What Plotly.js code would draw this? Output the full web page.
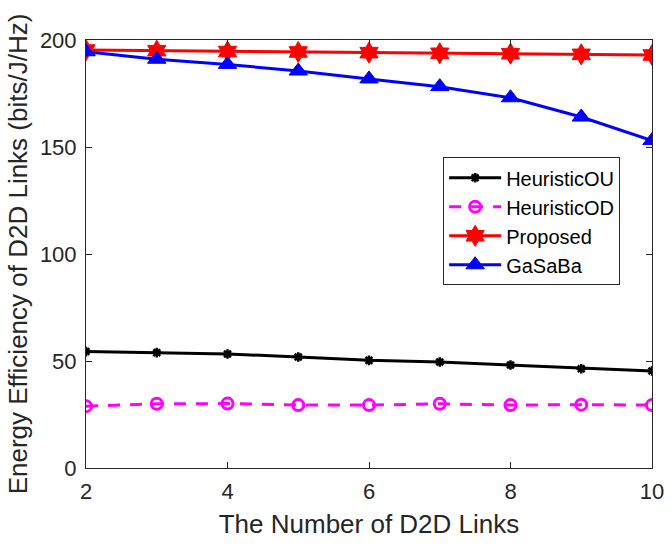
<!DOCTYPE html>
<html>
<head>
<meta charset="utf-8">
<script src="https://cdn.plot.ly/plotly-3.0.1.min.js"></script>
<style>html,body{margin:0;padding:0;background:#fff;}#chart{width:672px;height:548px;}</style>
</head>
<body>
<div id="chart"></div>
<script>
const xLinks = [2, 3, 4, 5, 6, 7, 8, 9, 10];
const heuristicOU = [54.4, 53.9, 53.3, 51.9, 50.3, 49.5, 48.1, 46.4, 45.3];
const heuristicOD = [28.9, 30.0, 30.1, 29.4, 29.4, 30.0, 29.4, 29.6, 29.4];
const proposed = [195.3, 195.0, 194.6, 194.4, 194.1, 193.8, 193.6, 193.3, 193.0];
const gaSaBa = [194.5, 191.0, 188.6, 185.5, 181.8, 178.2, 173.0, 164.0, 153.0];
const xTicks = [2, 4, 6, 8, 10];
const yTicks = [0, 50, 100, 150, 200];

const font = 'Liberation Sans, Arial, sans-serif';
const axisColor = '#262626';

const traces = [
  {x: xLinks, y: heuristicOU, name: 'HeuristicOU', mode: 'lines+markers',
   line: {color: '#000000', width: 3},
   marker: {symbol: 'asterisk-open', size: 8, color: '#000000', line: {color: '#000000', width: 2.5}}},
  {x: xLinks, y: heuristicOD, name: 'HeuristicOD', mode: 'lines+markers',
   line: {color: '#ff00ff', width: 3, dash: '12px,10px'},
   marker: {symbol: 'circle-open', size: 11, color: '#ff00ff', line: {color: '#ff00ff', width: 3}}},
  {x: xLinks, y: proposed, name: 'Proposed', mode: 'lines+markers',
   line: {color: '#ff0000', width: 3},
   marker: {symbol: 'hexagram', size: 16, color: '#ff0000', line: {color: '#ff0000', width: 1}}},
  {x: xLinks, y: gaSaBa, name: 'GaSaBa', mode: 'lines+markers',
   line: {color: '#0000ff', width: 3},
   marker: {symbol: 'triangle-up', size: 16, color: '#0000ff', line: {color: '#0000ff', width: 1}}}
];

const layout = {
  width: 672, height: 548,
  margin: {l: 86, r: 20, t: 40, b: 80},
  paper_bgcolor: '#ffffff', plot_bgcolor: '#ffffff',
  font: {family: font, color: axisColor, size: 22},
  showlegend: true,
  legend: {x: 0.631, y: 0.726, xanchor: 'left', yanchor: 'top',
    bgcolor: '#ffffff', bordercolor: '#262626', borderwidth: 1,
    font: {family: font, size: 20, color: '#000000'}, tracegroupgap: 0, itemwidth: 52},
  xaxis: {range: [2, 10], tickvals: xTicks, ticktext: xTicks.map(String),
    ticks: 'inside', ticklen: 6, tickcolor: axisColor, tickwidth: 1,
    showline: true, linecolor: axisColor, linewidth: 1, mirror: 'ticks',
    showgrid: false, zeroline: false, tickfont: {size: 22, color: axisColor},
    ticklabelstandoff: 4,
    title: {text: 'The Number of D2D Links', font: {size: 26, color: axisColor}, standoff: 11}},
  yaxis: {range: [0, 200], tickvals: yTicks, ticktext: yTicks.map(String),
    ticks: 'inside', ticklen: 6, tickcolor: axisColor, tickwidth: 1,
    showline: true, linecolor: axisColor, linewidth: 1, mirror: 'ticks',
    showgrid: false, zeroline: false, tickfont: {size: 22, color: axisColor},
    ticklabelstandoff: 4,
    title: {text: 'Energy Efficiency of D2D Links (bits/J/Hz)', font: {size: 26, color: axisColor}, standoff: 4}}
};

Plotly.newPlot('chart', traces, layout, {displayModeBar: false, staticPlot: true});
</script>
</body>
</html>
